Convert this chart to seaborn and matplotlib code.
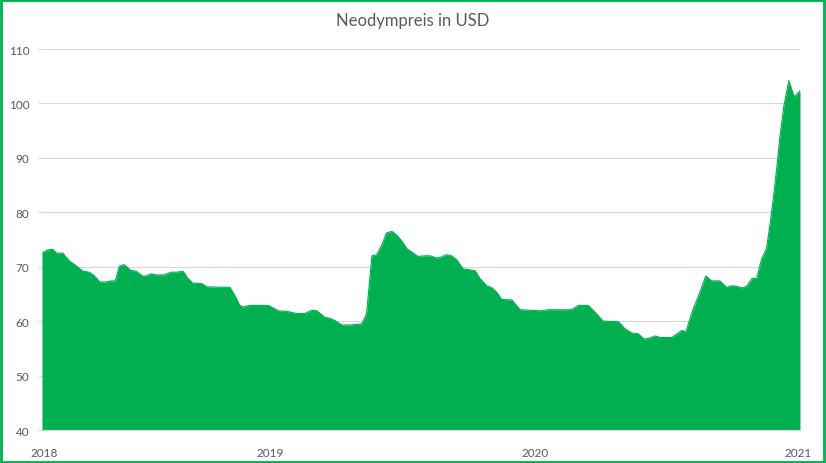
import pandas as pd
import seaborn as sns
import matplotlib.pyplot as plt
from matplotlib.patches import Rectangle

# Neodymium price (x = week index since start of 2018)
weeks = [0, 1.2, 2.2, 3.0, 4.3, 5.6, 7.0, 8.4, 9.7, 10.7, 11.9, 13.2, 14.2, 15.1,
         15.9, 16.9, 18.3, 19.3, 20.7, 21.5, 22.4, 23.5, 25.2, 26.5, 27.9, 29.0,
         30.0, 31.0, 32.9, 33.9, 38.7, 39.7, 40.7, 41.4, 42.8, 46.6, 48.6, 50.4,
         52.4, 54.1, 55.5, 56.6, 58.2, 59.3, 60.3, 61.7, 63.4, 65.8, 66.8, 67.9,
         68.9, 69.9, 70.9, 72.0, 73.0, 74.0, 75.1, 76.4, 77.4, 78.8, 79.9, 81.2,
         81.9, 83.3, 84.3, 85.3, 86.7, 89.1, 90.1, 91.5, 92.5, 93.6, 94.6, 96.7,
         98.4, 102.8, 104.2, 109.0, 110.4, 112.4, 114.2, 115.5, 118.6, 120.0,
         121.4, 122.7, 123.9, 125.1, 126.2, 127.2, 129.6, 130.6, 131.7, 132.5,
         134.0, 135.4, 136.6, 137.8, 139.5, 140.9, 141.9, 143.0, 144.0, 145.0,
         146.1, 147.1, 148.1, 149.1, 149.8, 150.5, 151.2, 151.9, 152.7, 153.7,
         154.8, 156.0]
price = [72.5, 73.1, 73.2, 72.5, 72.5, 71.1, 70.2, 69.2, 69.0, 68.4, 67.2, 67.2,
         67.4, 67.4, 70.1, 70.4, 69.3, 69.2, 68.3, 68.3, 68.7, 68.5, 68.5, 69.0,
         69.0, 69.2, 67.9, 67.0, 66.9, 66.3, 66.2, 64.7, 62.9, 62.6, 62.9, 62.9,
         61.9, 61.8, 61.4, 61.4, 62.0, 61.9, 60.7, 60.5, 60.1, 59.3, 59.3, 59.5,
         61.3, 72.0, 72.2, 73.9, 76.2, 76.5, 75.8, 74.8, 73.3, 72.5, 71.9, 72.0,
         72.0, 71.6, 71.7, 72.2, 72.0, 71.3, 69.6, 69.3, 67.9, 66.5, 66.2, 65.3,
         64.0, 63.9, 62.1, 61.9, 62.1, 62.1, 62.9, 62.9, 61.3, 60.0, 59.9, 58.6,
         57.8, 57.7, 56.7, 56.9, 57.3, 57.0, 57.0, 57.6, 58.3, 58.0, 62.2, 65.3,
         68.3, 67.4, 67.4, 66.2, 66.5, 66.4, 66.1, 66.4, 67.8, 67.9, 71.4, 73.3,
         77.6, 82.5, 88.0, 94.1, 99.6, 104.2, 101.2, 102.3]

year_pos = [0.4, 46.9, 101.5, 155.6]
year_labels = ['2018', '2019', '2020', '2021']
y_ticks = [40, 50, 60, 70, 80, 90, 100, 110]

df = pd.DataFrame({'week': weeks, 'price': price})

sns.set_style('white')
plt.rcParams['font.family'] = ['Lato', 'DejaVu Sans']

green = '#00B050'
grey = '#595959'

fig = plt.figure(figsize=(8.26, 4.64), dpi=100)
ax = fig.add_axes([0.0508, 0.0711, 0.9177, 0.8211])

ax.fill_between(df['week'], 40, df['price'], color=green, linewidth=0, zorder=2)
sns.lineplot(data=df, x='week', y='price', color=green, linewidth=0.8, ax=ax, zorder=3)

ax.set_xlim(0, 156)
ax.set_ylim(40, 110)
ax.set_yticks(y_ticks)
ax.set_xticks(year_pos)
ax.set_xticklabels(year_labels)
ax.grid(axis='y', color='#D9D9D9', linewidth=0.8, zorder=1)
ax.tick_params(axis='y', length=3, color='#D9D9D9', pad=6, labelsize=8.5, labelcolor=grey, left=True)
ax.tick_params(axis='x', length=0, pad=12, labelsize=8.5, labelcolor=grey)
ax.set_xlabel('')
ax.set_ylabel('')
for side in ['top', 'right', 'left']:
    ax.spines[side].set_visible(False)
ax.spines['bottom'].set_color('#D9D9D9')
ax.spines['bottom'].set_linewidth(0.8)

fig.text(0.5, 0.955, 'Neodympreis in USD', ha='center', va='center', fontsize=12, color=grey)

fig.patches.append(Rectangle((0.001, 0.002), 0.997, 0.995, transform=fig.transFigure,
                             fill=False, edgecolor=green, linewidth=2))

fig.savefig('out.png', dpi=100)
